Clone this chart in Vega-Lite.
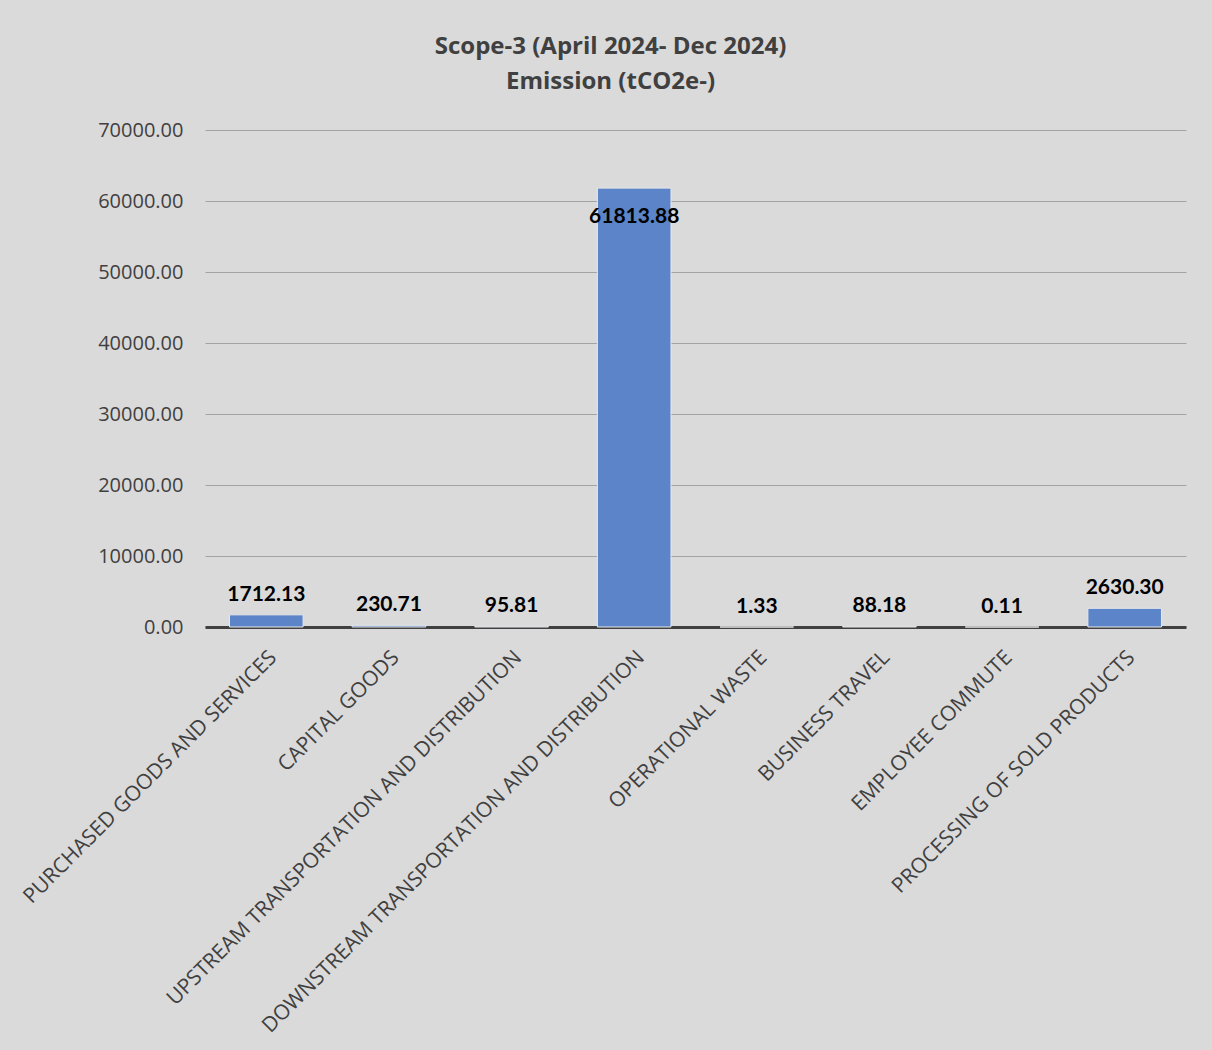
{
  "$schema": "https://vega.github.io/schema/vega-lite/v6.json",
  "autosize": "none",
  "width": 981,
  "height": 497,
  "padding": {"left": 205, "top": 130, "right": 26, "bottom": 423},
  "background": "#dadada",
  "title": {
    "text": ["Scope-3 (April 2024- Dec 2024)", "Emission (tCO2e-)"],
    "font": "Open Sans",
    "fontSize": 24,
    "fontWeight": "bold",
    "color": "#404040",
    "lineHeight": 35,
    "anchor": "middle",
    "frame": "group",
    "dx": -85,
    "offset": 26
  },
  "config": {
    "view": {"stroke": null},
    "axis": {"labelFont": "Open Sans", "labelColor": "#404040"}
  },
  "data": {
    "values": [
      {"category": "PURCHASED GOODS AND SERVICES", "value": 1712.13},
      {"category": "CAPITAL GOODS", "value": 230.71},
      {"category": "UPSTREAM TRANSPORTATION AND DISTRIBUTION", "value": 95.81},
      {"category": "DOWNSTREAM TRANSPORTATION AND DISTRIBUTION", "value": 61813.88},
      {"category": "OPERATIONAL WASTE", "value": 1.33},
      {"category": "BUSINESS TRAVEL", "value": 88.18},
      {"category": "EMPLOYEE COMMUTE", "value": 0.11},
      {"category": "PROCESSING OF SOLD PRODUCTS", "value": 2630.3}
    ]
  },
  "encoding": {
    "x": {
      "field": "category",
      "type": "nominal",
      "sort": null,
      "title": null,
      "scale": {"paddingInner": 0.4, "paddingOuter": 0.2},
      "axis": {
        "labelAngle": -45,
        "labelAlign": "right",
        "labelBaseline": "middle",
        "labelFontSize": 21,
        "labelPadding": 27,
        "labelOffset": 7,
        "labelLimit": 800,
        "ticks": false,
        "domainColor": "#404040",
        "domainWidth": 3,
        "grid": false
      }
    },
    "y": {
      "field": "value",
      "type": "quantitative",
      "title": null,
      "scale": {"domain": [0, 70000]},
      "axis": {
        "values": [0, 10000, 20000, 30000, 40000, 50000, 60000, 70000],
        "format": ".2f",
        "labelFontSize": 20,
        "labelPadding": 22,
        "ticks": false,
        "domain": false,
        "gridColor": "#a3a3a3",
        "gridWidth": 1.2
      }
    }
  },
  "layer": [
    {"mark": {"type": "bar", "color": "#5b84c9", "stroke": "#e8e8e8", "strokeWidth": 1}},
    {
      "transform": [{"filter": "datum.value < 50000"}],
      "mark": {"type": "text", "font": "Lato", "fontWeight": "bold", "fontSize": 21, "color": "#000000", "baseline": "bottom", "dy": -10},
      "encoding": {"text": {"field": "value", "type": "quantitative", "format": ".2f"}}
    },
    {
      "transform": [{"filter": "datum.value >= 50000"}],
      "mark": {"type": "text", "font": "Lato", "fontWeight": "bold", "fontSize": 21, "color": "#000000", "baseline": "top", "dy": 18},
      "encoding": {"text": {"field": "value", "type": "quantitative", "format": ".2f"}}
    }
  ]
}
